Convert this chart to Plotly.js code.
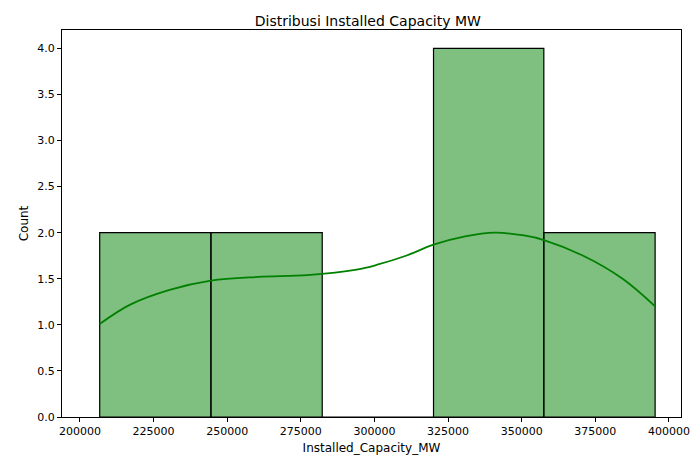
<!DOCTYPE html>
<html><head><meta charset="utf-8">
<script src="https://cdn.plot.ly/plotly-3.0.1.min.js"></script>
<style>body{margin:0}</style></head>
<body><div id="plot" style="width:694px;height:470px"></div>
<script>
// bin edges and counts
var binEdges = [206700, 244480, 282270, 320060, 357520, 395310]
var counts = [2, 2, 0, 4, 2]
// kde curve
var kdeX = [206700, 217060, 230440, 244480, 260540, 277260, 293980, 300670, 310700, 320070, 330770, 340800, 350840, 357530, 370900, 384280, 395320]
var kdeY = [1.01, 1.22, 1.38, 1.48, 1.52, 1.54, 1.60, 1.65, 1.75, 1.87, 1.96, 2.0, 1.97, 1.92, 1.75, 1.5, 1.2]

var centers = [], widths = []
for (var i = 0; i < counts.length; i++) {
	centers.push((binEdges[i] + binEdges[i+1]) / 2)
	widths.push(binEdges[i+1] - binEdges[i])
}

var bars = {
	type: 'bar', x: centers, y: counts, width: widths,
	marker: {color: 'rgba(0,128,0,0.5)', line: {color: 'black', width: 1.2}},
	hoverinfo: 'x+y'
}
var kde = {
	type: 'scatter', mode: 'lines', x: kdeX, y: kdeY, line: {color: 'green', width: 1.8, shape: 'spline'}
}

var font = {family: 'DejaVu Sans', size: 11, color: 'black'}
Plotly.newPlot('plot', [bars, kde], {
	width: 694, height: 470,
	margin: {l: 62, r: 13, t: 30, b: 53},
	showlegend: false,
	font: font,
	paper_bgcolor: 'white', plot_bgcolor: 'white',
	title: {text: 'Distribusi Installed Capacity MW', font: {family: 'DejaVu Sans', size: 14}, x: 0.53, y: 0.965},
	xaxis: {
		range: [193900, 404100], tickvals: [200000, 225000, 250000, 275000, 300000, 325000, 350000, 375000, 400000],
		ticktext: ['200000','225000','250000','275000','300000','325000','350000','375000','400000'],
		showgrid: false, zeroline: false, showline: true, mirror: true, linecolor: 'black', linewidth: 1,
		ticks: 'outside', ticklen: 4, tickcolor: 'black',
		title: {text: 'Installed_Capacity_MW', font: {family: 'DejaVu Sans', size: 12}, standoff: 6}
	},
	yaxis: {
		range: [0, 4.2], tickvals: [0,0.5,1,1.5,2,2.5,3,3.5,4],
		ticktext: ['0.0','0.5','1.0','1.5','2.0','2.5','3.0','3.5','4.0'],
		showgrid: false, zeroline: false, showline: true, mirror: true, linecolor: 'black', linewidth: 1,
		ticks: 'outside', ticklen: 4, tickcolor: 'black',
		title: {text: 'Count', font: {family: 'DejaVu Sans', size: 12}, standoff: 6}
	}
}, {displayModeBar: false})
</script></body></html>
